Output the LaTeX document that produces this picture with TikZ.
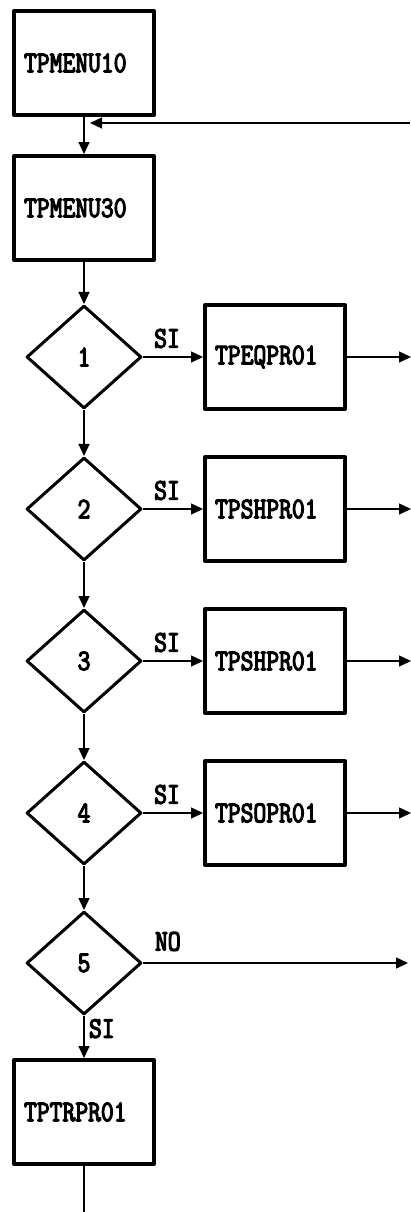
\documentclass[tikz,border=0pt]{standalone}
\usepackage{fontspec}
\newfontfamily\prnfont[FakeStretch=0.83,FakeBold=4]{Latin Modern Mono}
\usetikzlibrary{shapes.geometric,arrows.meta}
\begin{document}
\begin{tikzpicture}[x=1pt,y=-1pt,>={Triangle[length=12pt,width=11pt]}, line join=round,
	font=\prnfont\fontsize{30}{30}\selectfont,
	proc/.style={draw,line width=4pt,minimum width=140pt,minimum height=104pt,
		text width=120pt,align=left,inner xsep=10pt,inner ysep=0pt},
	dec/.style={draw,diamond,line width=3pt,minimum width=115pt,minimum height=103pt,inner sep=0pt},
	con/.style={line width=1.4pt}]
	\useasboundingbox (0,0) rectangle (410,1212);
	\def\xa{84} \def\xb{275} \def\dy{152} % columns, row step
	\node[proc] (menu10) at (\xa,63) {TPMENU10};
	\node[proc] (menu30) at (\xa,208) {TPMENU30};
	\draw[con,->] (menu10) -- (menu30);
	\coordinate (ret) at (410,123);
	\coordinate (rettip) at (\xa+6,123);
	\draw[con,->] (ret) -- (rettip);
	\foreach \i/\txt in {1/TPEQPR01,2/TPSHPR01,3/TPSHPR01,4/TPSOPR01}{
		\node[dec] (q\i) at (\xa,{357+\dy*(\i-1)}) {\i};
		\node[proc] (pr\i) at (\xb,{357+\dy*(\i-1)}) {\txt};
		\draw[con,->] (q\i) -- node[above=5pt,pos=0.4]{SI} (pr\i);
		\draw[con,->] (pr\i.east) -- ++(64,0);
	}
	\node[dec] (q5) at (\xa,963) {5};
	\foreach \a/\b in {menu30/q1,q1/q2,q2/q3,q3/q4,q4/q5}
		\draw[con,->] (\a) -- (\b);
	\draw[con,->] (q5.east) -- node[pos=0,anchor=south west,xshift=8pt,yshift=8pt]{NO} ++(265,0);
	\node[proc] (trpr) at (\xa,1112) {TPTRPR01};
	\draw[con,->] (q5) -- node[right=1pt,pos=0.3]{SI} (trpr);
	\coordinate (loopend) at (\xa,1212);
	\draw[con] (trpr) -- (loopend);
\end{tikzpicture}
\end{document}
